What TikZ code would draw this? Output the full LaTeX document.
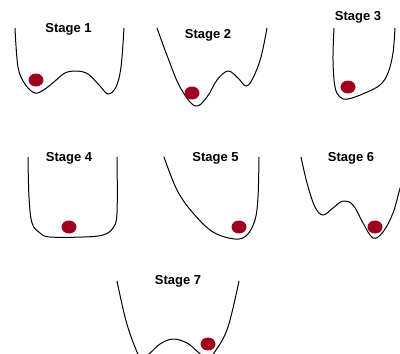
\documentclass[tikz,border=0pt]{standalone}
\usepackage{fontspec}
\setsansfont{Liberation Sans}
\usepackage{tikz}
\definecolor{ballred}{RGB}{158,0,32}

\begin{document}
\begin{tikzpicture}[x=1pt,y=-1pt,
    well/.style={line width=1pt,line join=round},
    ball/.style={fill=ballred},
    stagelabel/.style={anchor=base,font=\sffamily\bfseries\fontsize{13}{15}\selectfont}]
  % Frame of the picture
  \useasboundingbox (0,0) rectangle (400,354);
  \clip (0,0) rectangle (400,354);
  % Labels
  \foreach \n/\x/\y in {1/68.5/32,2/208/38,3/358/20,4/69/161,5/215.5/161,6/351/161,7/178/284}
    \node[stagelabel] (lab\n) at (\x,\y) {Stage \n};
  % Stage 1
  \draw[well] plot[smooth,tension=0.6] coordinates {(15,28) (18,67) (25,84) (35,93) (45,89) (55,81) (65,73) (76,71) (88,74) (100,86) (108,94) (116,87) (121,67) (124,28)};
  \fill[ball] (36,80) ellipse (7.5 and 6.5);
  % Stage 2
  \draw[well] plot[smooth,tension=0.6] coordinates {(157,28) (168,58) (180,87) (195,106) (207,97) (217,80) (228,71) (238,78) (246,86) (253,78) (261,57) (267,28)};
  \fill[ball] (192,93) ellipse (7.5 and 6.5);
  % Stage 3
  \draw[well] plot[smooth,tension=0.6] coordinates {(334,28) (333,60) (335,87) (340,97) (348,99) (365,93) (380,85) (388,73) (393,53) (395,28)};
  \fill[ball] (348,87) ellipse (7.5 and 6.5);
  % Stage 4
  \draw[well] plot[smooth,tension=0.6] coordinates {(28,157) (29,197) (32,223) (40,233) (50,237) (83,237) (103,235) (113,228) (117,213) (117,157)};
  \fill[ball] (69,227) ellipse (7.5 and 6.5);
  % Stage 5
  \draw[well] plot[smooth,tension=0.6] coordinates {(164,157) (177,190) (193,213) (213,232) (235,239) (247,235) (255,220) (258,197) (259,157)};
  \fill[ball] (239,227) ellipse (7.5 and 6.5);
  % Stage 6
  \draw[well] plot[smooth,tension=0.6] coordinates {(301,157) (307,183) (315,207) (323,215) (333,208) (343,201) (353,205) (363,223) (373,238) (383,232) (393,213) (399,192) (403,178)};
  \fill[ball] (375,227) ellipse (7.5 and 6.5);
  % Stage 7
  \draw[well] plot[smooth,tension=0.6] coordinates {(117,281) (125,317) (133,342) (141,358) (150,353) (160,344) (173,339) (187,343) (198,352) (207,359) (216,350) (228,327) (239,281)};
  \fill[ball] (208,344) ellipse (7.5 and 6.5);
\end{tikzpicture}
\end{document}
